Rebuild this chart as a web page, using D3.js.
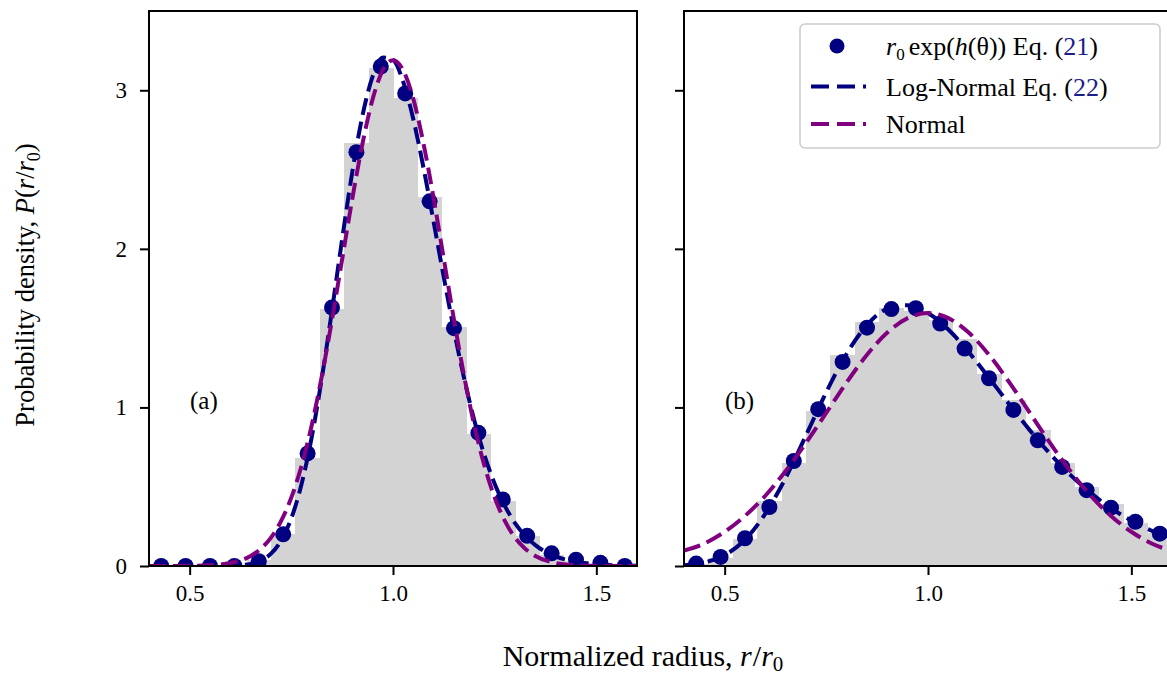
<!DOCTYPE html>
<html>
<head>
<meta charset="utf-8">
<script src="https://cdn.jsdelivr.net/npm/d3@7"></script>
<style>
  html, body { margin: 0; padding: 0; background: #fff; }
  svg { display: block; }
  text { font-family: "Liberation Serif", "Times New Roman", serif; fill: #000; }
</style>
</head>
<body>
<svg id="chart" width="1167" height="675"></svg>
<script>
// ---------------- data ----------------
const binCenters = [0.43,0.49,0.55,0.61,0.67,0.73,0.79,0.85,0.91,0.97,1.03,1.09,1.15,1.21,1.27,1.33,1.39,1.45,1.51,1.57];
const binWidth = 0.06;

// panel (a)
const histA = [0,0,0,0.005,0.04,0.20,0.68,1.62,2.67,3.14,2.95,2.33,1.51,0.83,0.41,0.19,0.07,0.03,0.01,0.003];
const dotsA = [0,0,0,0,0.03,0.20,0.71,1.63,2.61,3.15,2.98,2.30,1.50,0.84,0.42,0.19,0.08,0.04,0.02,0.0];
const curveXA = [0.40,0.45,0.50,0.55,0.60,0.65,0.675,0.70,0.725,0.75,0.775,0.80,0.825,0.85,0.875,0.90,0.925,0.95,0.975,1.00,1.025,1.05,1.075,1.10,1.125,1.15,1.175,1.20,1.225,1.25,1.275,1.30,1.325,1.35,1.40,1.45,1.50,1.55,1.60];
const logNormalA = [0,0,0,0.0001,0.001,0.013,0.034,0.078,0.161,0.301,0.515,0.811,1.184,1.613,2.062,2.486,2.841,3.088,3.207,3.192,3.054,2.817,2.511,2.169,1.820,1.485,1.182,0.918,0.697,0.519,0.379,0.271,0.191,0.132,0.061,0.027,0.011,0.004,0.002];
const normalA = [0,0,0.001,0.005,0.019,0.063,0.109,0.179,0.284,0.432,0.631,0.886,1.197,1.553,1.935,2.317,2.664,2.945,3.127,3.19,3.127,2.945,2.664,2.317,1.935,1.553,1.197,0.886,0.631,0.432,0.284,0.179,0.109,0.063,0.019,0.005,0.001,0,0];

// panel (b)
const histB = [0.01,0.05,0.17,0.41,0.65,0.98,1.33,1.54,1.63,1.61,1.55,1.43,1.21,1.05,0.86,0.65,0.50,0.39,0.27,0.21];
const dotsB = [0.015,0.057,0.175,0.372,0.662,0.989,1.287,1.503,1.62,1.626,1.529,1.371,1.184,0.984,0.793,0.625,0.478,0.368,0.279,0.204];
const curveXB = [0.40,0.45,0.50,0.55,0.60,0.65,0.70,0.75,0.80,0.85,0.90,0.95,1.00,1.05,1.10,1.15,1.20,1.25,1.30,1.35,1.40,1.45,1.50,1.55,1.60];
const logNormalB = [0.005,0.022,0.068,0.166,0.330,0.556,0.824,1.097,1.339,1.520,1.622,1.645,1.596,1.491,1.349,1.187,1.019,0.857,0.708,0.575,0.461,0.365,0.286,0.222,0.170];
const normalB = [0.098,0.142,0.216,0.316,0.443,0.599,0.776,0.967,1.158,1.332,1.472,1.563,1.595,1.563,1.472,1.332,1.158,0.967,0.776,0.599,0.443,0.316,0.216,0.142,0.095];

const xTicks = [0.5, 1.0, 1.5];
const yTicks = [0, 1, 2, 3];
const panelLabels = ["(a)", "(b)"];

// ---------------- layout ----------------
const NAVY = "#000080", PURPLE = "#800080", GRAY = "#d3d3d3";
const svg = d3.select("#chart");
const plotTop = 11, plotBottom = 566, pw = 488;
const panels = [
  { left: 149, hist: histA, dots: dotsA, cx: curveXA, ln: logNormalA, nm: normalA, label: panelLabels[0], showY: true },
  { left: 684, hist: histB, dots: dotsB, cx: curveXB, ln: logNormalB, nm: normalB, label: panelLabels[1], showY: false }
];

const y = d3.scaleLinear().domain([0, 3.5]).range([plotBottom, plotTop]);

panels.forEach((p, i) => {
  const x = d3.scaleLinear().domain([0.4, 1.6]).range([p.left, p.left + pw]);
  const clipId = "clip" + i;
  svg.append("clipPath").attr("id", clipId).append("rect")
    .attr("x", p.left).attr("y", plotTop).attr("width", pw).attr("height", plotBottom - plotTop);
  const g = svg.append("g").attr("clip-path", `url(#${clipId})`);

  // histogram
  g.selectAll("rect.bar").data(binCenters).enter().append("rect")
    .attr("class", "bar")
    .attr("x", d => x(d - binWidth / 2))
    .attr("width", d => x(d + binWidth / 2) - x(d - binWidth / 2) + 0.5)
    .attr("y", (d, k) => y(p.hist[k]))
    .attr("height", (d, k) => y(0) - y(p.hist[k]))
    .attr("shape-rendering", "crispEdges")
    .attr("fill", GRAY);

  // dots
  g.selectAll("circle.dot").data(binCenters).enter().append("circle")
    .attr("cx", d => x(d)).attr("cy", (d, k) => y(p.dots[k])).attr("r", 8)
    .attr("fill", NAVY);

  const line = d3.line().x(d => x(d[0])).y(d => y(d[1])).curve(d3.curveMonotoneX);
  g.append("path").datum(p.cx.map((v, k) => [v, p.ln[k]]))
    .attr("d", line).attr("fill", "none").attr("stroke", NAVY)
    .attr("stroke-width", 4).attr("stroke-dasharray", "17,7");
  g.append("path").datum(p.cx.map((v, k) => [v, p.nm[k]]))
    .attr("d", line).attr("fill", "none").attr("stroke", PURPLE)
    .attr("stroke-width", 4).attr("stroke-dasharray", "17,7");

  // panel label
  svg.append("text").attr("x", x(0.4) + 41).attr("y", y(1.04) + 8)
    .attr("font-size", 25).text(p.label);

  // axes
  const xa = svg.append("g").attr("transform", `translate(0,${plotBottom})`)
    .call(d3.axisBottom(x).tickValues(xTicks).tickFormat(d3.format(".1f")).tickSize(9).tickPadding(10));
  xa.select(".domain").remove();
  xa.selectAll("line").attr("stroke", "#000").attr("stroke-width", 2);
  xa.selectAll("text").attr("font-size", 23).attr("font-family", "Liberation Serif");

  const ya = svg.append("g").attr("transform", `translate(${p.left},0)`)
    .call(d3.axisLeft(y).tickValues(yTicks).tickFormat(p.showY ? d3.format("d") : () => "").tickSize(9).tickPadding(13));
  ya.select(".domain").remove();
  ya.selectAll("line").attr("stroke", "#000").attr("stroke-width", 2);
  ya.selectAll("text").attr("font-size", 23).attr("font-family", "Liberation Serif");

  // spines
  svg.append("rect").attr("x", p.left).attr("y", plotTop).attr("width", pw).attr("height", plotBottom - plotTop)
    .attr("fill", "none").attr("stroke", "#000").attr("stroke-width", 2);
});

// ---------------- legend ----------------
const lg = svg.append("g");
lg.append("rect").attr("x", 800).attr("y", 24).attr("width", 360).attr("height", 124).attr("rx", 5)
  .attr("fill", "#fff").attr("fill-opacity", 0.85).attr("stroke", "#cccccc").attr("stroke-width", 1.5);
const ly = [46, 86.5, 124];
lg.append("circle").attr("cx", 837).attr("cy", ly[0]).attr("r", 7.5).attr("fill", NAVY);
lg.append("line").attr("x1", 811).attr("x2", 866).attr("y1", ly[1]).attr("y2", ly[1])
  .attr("stroke", NAVY).attr("stroke-width", 4).attr("stroke-dasharray", "18,8");
lg.append("line").attr("x1", 811).attr("x2", 866).attr("y1", ly[2]).attr("y2", ly[2])
  .attr("stroke", PURPLE).attr("stroke-width", 4).attr("stroke-dasharray", "18,8");

const LINK = "#1c1c8c";
const LFS = 26;
const t1 = lg.append("text").attr("x", 886).attr("y", ly[0] + 9).attr("font-size", LFS);
t1.append("tspan").attr("font-style", "italic").text("r");
t1.append("tspan").attr("font-size", 17).attr("dy", 5).text("0");
t1.append("tspan").attr("dy", -5).attr("dx", 4).text("exp(");
t1.append("tspan").attr("font-style", "italic").text("h");
t1.append("tspan").text("(θ)) Eq. (");
t1.append("tspan").attr("fill", LINK).text("21");
t1.append("tspan").text(")");

const t2 = lg.append("text").attr("x", 886).attr("y", ly[1] + 9).attr("font-size", LFS);
t2.append("tspan").text("Log-Normal Eq. (");
t2.append("tspan").attr("fill", LINK).text("22");
t2.append("tspan").text(")");

lg.append("text").attr("x", 886).attr("y", ly[2] + 9).attr("font-size", LFS).text("Normal");

// ---------------- axis titles ----------------
const xl = svg.append("text").attr("x", 643).attr("y", 666).attr("text-anchor", "middle").attr("font-size", 30);
xl.append("tspan").text("Normalized radius, ");
xl.append("tspan").attr("font-style", "italic").text("r");
xl.append("tspan").attr("dx", 1).text("/");
xl.append("tspan").attr("font-style", "italic").text("r");
xl.append("tspan").attr("font-size", 21).attr("dy", 5).text("0");

const yl = svg.append("text").attr("transform", "translate(34,285) rotate(-90)").attr("text-anchor", "middle").attr("font-size", 26.5);
yl.append("tspan").text("Probability density, ");
yl.append("tspan").attr("font-style", "italic").text("P");
yl.append("tspan").text("(");
yl.append("tspan").attr("font-style", "italic").text("r");
yl.append("tspan").text("/");
yl.append("tspan").attr("font-style", "italic").text("r");
yl.append("tspan").attr("font-size", 18).attr("dy", 6).text("0");
yl.append("tspan").attr("dy", -6).text(")");
</script>
</body>
</html>
